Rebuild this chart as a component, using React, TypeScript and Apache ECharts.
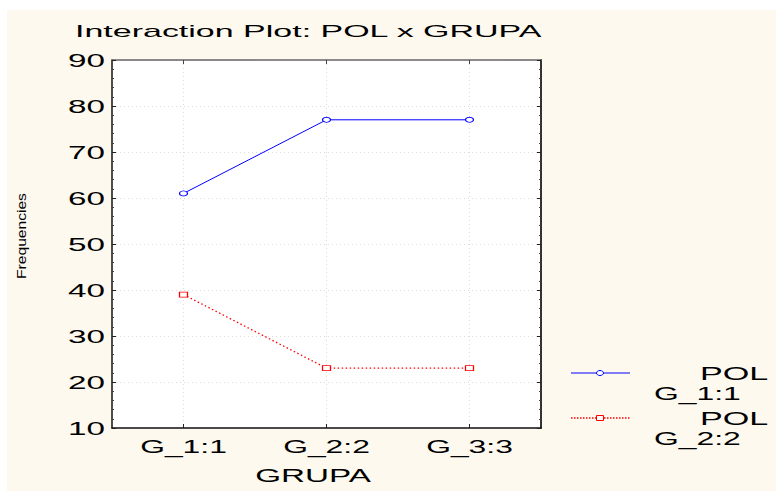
import React, { useEffect, useRef } from "react";
import * as echarts from "echarts";

const categories = ["G_1:1", "G_2:2", "G_3:3"];
const seriesNames = ["POL G_1:1", "POL G_2:2"];
const polG1 = [61, 77, 77];
const polG2 = [39, 23, 23];
const yTicks = [10, 20, 30, 40, 50, 60, 70, 80, 90];
const titleText = "Interaction Plot: POL x GRUPA";
const xTitle = "GRUPA";
const yTitle = "Frequencies";

const FONT = "'Liberation Sans', Arial, sans-serif";

export default function App() {
  const ref = useRef<HTMLDivElement>(null);
  useEffect(() => {
    document.body.style.margin = "0";
    const chart = echarts.init(ref.current!, null, { renderer: "svg" });
    const axisCommon = {
      min: 10,
      max: 90,
      interval: 10,
      axisLabel: { show: false },
    };
    const gridLine = { color: "#dcdcdc", type: [1, 3], width: 1 };
    chart.setOption({
      animation: false,
      backgroundColor: "#FDF9EF",
      grid: {
        left: 105,
        top: 50,
        width: 429,
        height: 368,
        show: true,
        backgroundColor: "#ffffff",
        borderWidth: 0,
      },
      xAxis: [
        {
          type: "category",
          data: categories,
          boundaryGap: true,
          axisLine: { show: true, lineStyle: { color: "#111", width: 1.5 } },
          axisTick: { show: true, inside: true, alignWithLabel: true, length: 4, lineStyle: { color: "#222" } },
          axisLabel: { show: false },
          splitLine: { show: true, alignWithLabel: true, lineStyle: gridLine },
        },
        {
          type: "category",
          position: "top",
          data: categories,
          boundaryGap: true,
          axisLine: { show: true, lineStyle: { color: "#666", width: 1.5 } },
          axisTick: { show: true, inside: true, alignWithLabel: true, length: 4, lineStyle: { color: "#444" } },
          axisLabel: { show: false },
          splitLine: { show: false },
        },
      ],
      yAxis: [
        {
          type: "value",
          ...axisCommon,
          position: "left",
          axisLine: { show: true, lineStyle: { color: "#111", width: 1.5 } },
          axisTick: { show: true, inside: true, length: 4, lineStyle: { color: "#222" } },
          minorTick: { show: true, splitNumber: 5, length: 2, lineStyle: { color: "#444" } },
          splitLine: { show: true, lineStyle: gridLine },
        },
        {
          type: "value",
          ...axisCommon,
          position: "right",
          axisLine: { show: true, lineStyle: { color: "#333", width: 2 } },
          axisTick: { show: true, inside: true, length: 4, lineStyle: { color: "#222" } },
          minorTick: { show: true, splitNumber: 5, length: 2, lineStyle: { color: "#444" } },
          splitLine: { show: false },
        },
      ],
      series: [
        {
          name: seriesNames[0],
          type: "line",
          data: polG1,
          xAxisIndex: 0,
          yAxisIndex: 0,
          symbol: "circle",
          symbolSize: [8, 5],
          itemStyle: { color: "#ffffff", borderColor: "#0000FF", borderWidth: 1 },
          lineStyle: { color: "#0000FF", width: 1 },
        },
        {
          name: seriesNames[1],
          type: "line",
          data: polG2,
          xAxisIndex: 0,
          yAxisIndex: 0,
          symbol: "rect",
          symbolSize: [8, 5],
          itemStyle: { color: "#ffffff", borderColor: "#FF0000", borderWidth: 1 },
          lineStyle: { color: "#FF0000", width: 1.3, type: [1.5, 2.5] },
        },
      ],
    });

    const g: any[] = [];
    const txt = (text: string, x: number, y: number, size: number, sx: number, align: string, extra: any = {}) => ({
      type: "text",
      x,
      y,
      scaleX: sx,
      silent: true,
      ...extra,
      style: {
        text,
        x: 0,
        y: 0,
        font: `${size}px ${FONT}`,
        fill: "#000",
        textAlign: align,
        textVerticalAlign: "middle",
      },
    });
    yTicks.forEach((v) => {
      const y = chart.convertToPixel({ yAxisIndex: 0 }, v) as number;
      g.push(txt(String(v), 98, y + 1, 17.5, 1.9, "right"));
    });
    categories.forEach((c, i) => {
      const x = chart.convertToPixel({ xAxisIndex: 0 }, i) as number;
      g.push(txt(c, x, 437, 17.5, 1.82, "center"));
    });
    g.push(txt(titleText, 68, 21, 17, 2.0, "left"));
    g.push(txt(xTitle, 306, 466, 17.5, 1.9, "center"));
    g.push(txt(yTitle, 15, 226, 12.5, 1.25, "center", { rotation: Math.PI / 2 }));

    // legend
    const legendColors = ["#0000FF", "#FF0000"];
    const legendY = [363, 408];
    seriesNames.forEach((name, i) => {
      const y = legendY[i];
      g.push({
        type: "line",
        silent: true,
        shape: { x1: 564, y1: y, x2: 623, y2: y },
        style: { stroke: legendColors[i], lineWidth: i === 1 ? 1.3 : 1, lineDash: i === 1 ? [1.5, 1.5] : null },
      });
      if (i === 0) {
        g.push({
          type: "ellipse",
          silent: true,
          shape: { cx: 593, cy: y, rx: 3.5, ry: 2.5 },
          style: { fill: "#fff", stroke: legendColors[i], lineWidth: 1 },
        });
      } else {
        g.push({
          type: "rect",
          silent: true,
          shape: { x: 589.5, y: y - 2.5, width: 7, height: 5 },
          style: { fill: "#fff", stroke: legendColors[i], lineWidth: 1 },
        });
      }
      const parts = name.split(" ");
      g.push(txt(parts[0], 693, y + 1, 17.5, 1.95, "left"));
      g.push(txt(parts[1], 647, y + 21, 17.5, 1.82, "left"));
    });
    chart.setOption({ graphic: g });

    return () => chart.dispose();
  }, []);

  return (
    <div style={{ position: "fixed", left: 0, top: 0, width: 776, height: 491, background: "#ffffff", overflow: "hidden" }}>
      <div ref={ref} style={{ position: "absolute", left: 7, top: 10, width: 769, height: 481 }} />
    </div>
  );
}
